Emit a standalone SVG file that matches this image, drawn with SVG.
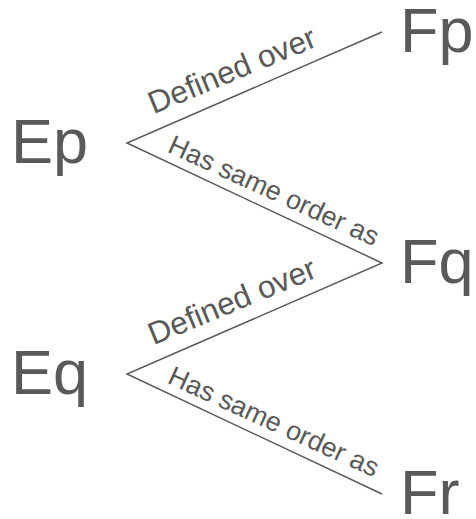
<svg xmlns="http://www.w3.org/2000/svg" width="476" height="519" viewBox="0 0 476 519">
<style>
.node{font-family:"Liberation Sans",Arial,sans-serif;font-size:63px;fill:#595959}
.lbl{font-family:"Liberation Sans",Arial,sans-serif;fill:#595959;text-anchor:middle}
.def{font-size:31.5px}
.has{font-size:27px}
.edge{fill:none;stroke:#595959;stroke-width:1.5}
</style>
<rect width="476" height="519" fill="#fff"/>
<g id="connectors">
<polyline class="edge" points="382,32 127,143 382,263 127,374 382,494"/>
<text class="lbl def" transform="translate(236,80) rotate(-22.5)">Defined over</text>
<text class="lbl has" transform="translate(270,199) rotate(24.6)">Has same order as</text>
<text class="lbl def" transform="translate(236,311) rotate(-22.5)">Defined over</text>
<text class="lbl has" transform="translate(270,430) rotate(24.6)">Has same order as</text>
</g>
<g id="Ep"><text class="node" x="11" y="163">Ep</text></g>
<g id="Fp"><text class="node" x="400" y="52">Fp</text></g>
<g id="Fq"><text class="node" x="400" y="283">Fq</text></g>
<g id="Eq"><text class="node" x="11" y="394">Eq</text></g>
<g id="Fr"><text class="node" x="400" y="514">Fr</text></g>
</svg>
